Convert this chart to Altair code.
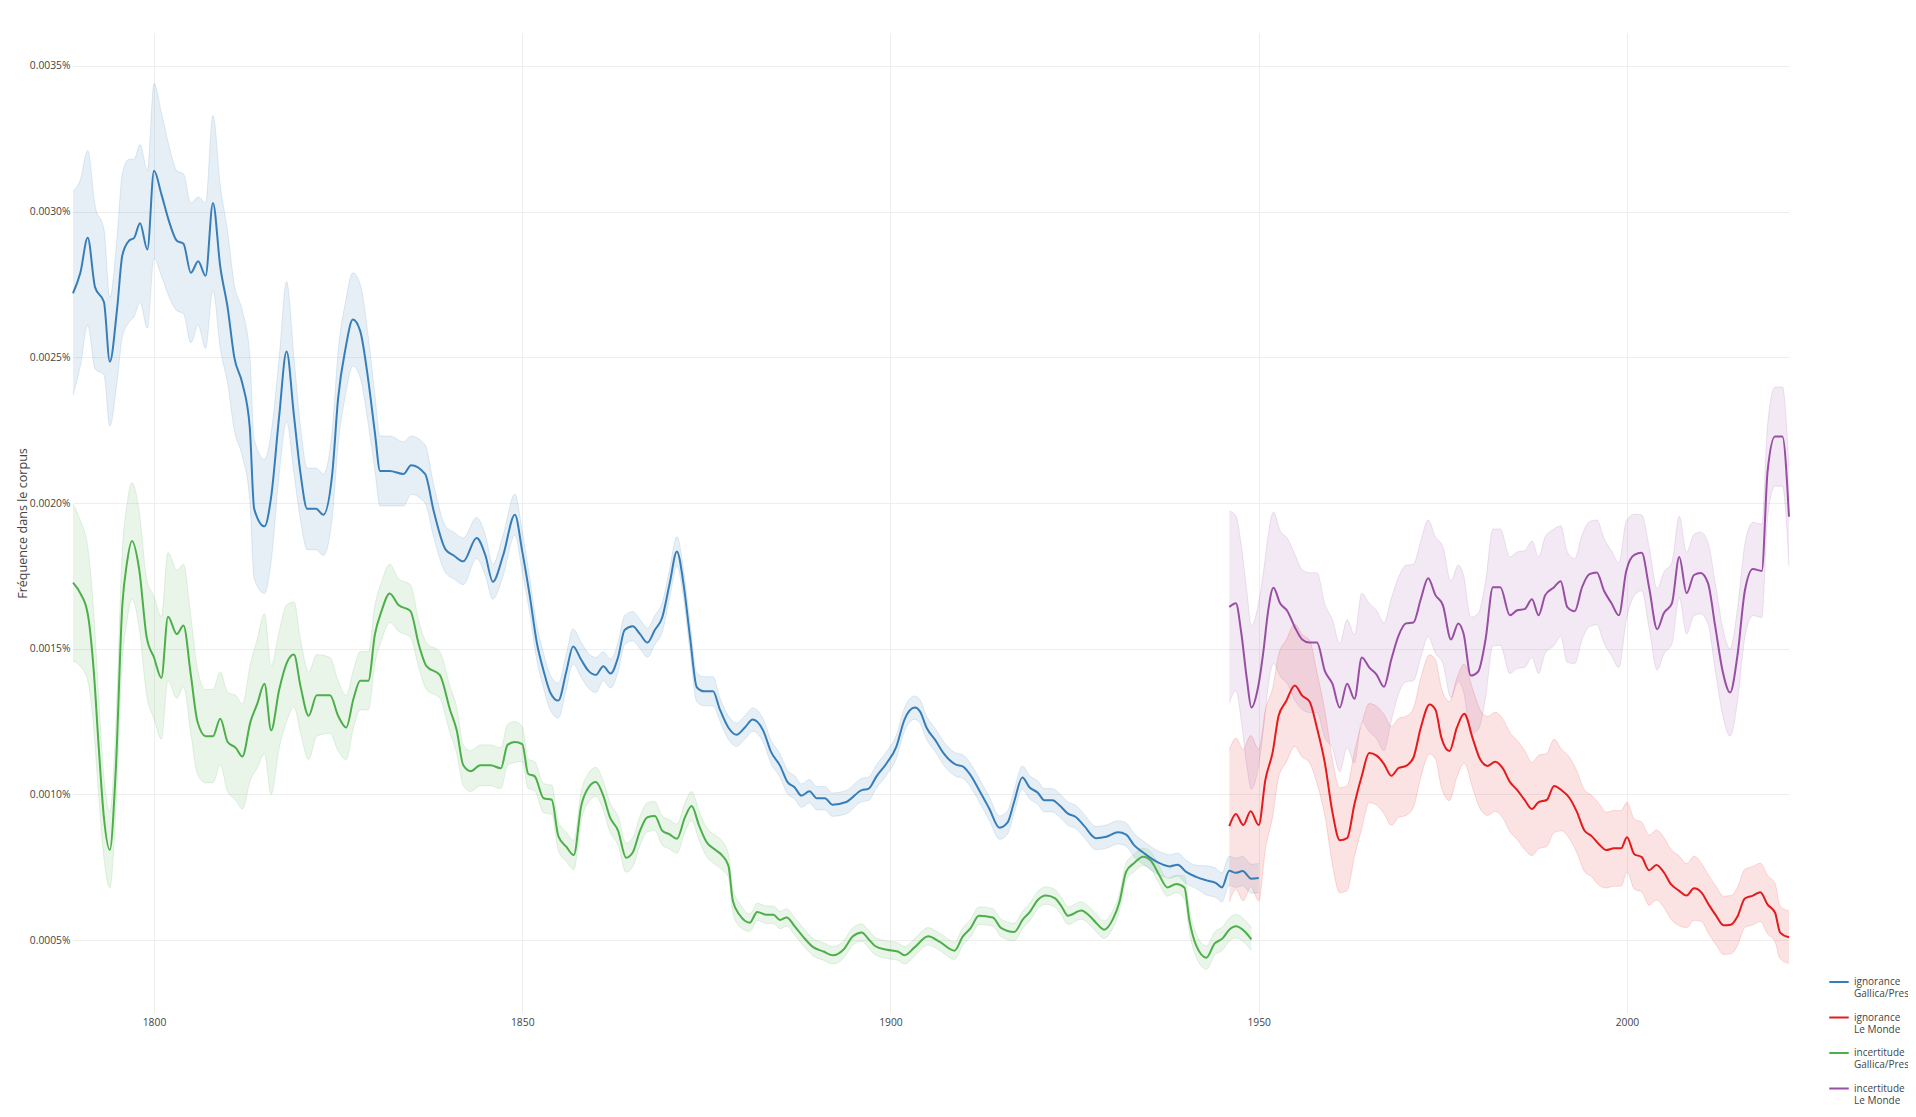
import altair as alt
import pandas as pd

# ---------------- data (values are in %) ----------------
series_names = ["ignorance Gallica/Presse", "ignorance Le Monde",
                "incertitude Gallica/Presse", "incertitude Le Monde"]
series_colors = ["#377eb8", "#e41a1c", "#4daf4a", "#984ea3"]

# ignorance – Gallica/Presse (blue)
years_ign_g = [1789, 1790, 1791, 1792, 1793.2, 1794, 1795, 1795.7, 1796.6, 1797.3, 1798.1, 1799.1,
               1800, 1801, 1802, 1803.1, 1804, 1805, 1806, 1807, 1808, 1809, 1810, 1810.9, 1812,
               1813, 1813.6, 1815, 1815.9, 1817, 1818, 1819, 1819.9, 1820.8, 1822, 1823, 1824.2,
               1825, 1826, 1827, 1828, 1829.1, 1830, 1830.7, 1832, 1833.9, 1834.9, 1836.8, 1838,
               1839.6, 1840.7, 1842, 1843.8, 1845, 1846, 1847.4, 1849, 1850, 1851, 1852, 1852.9,
               1853.8, 1854.9, 1856, 1856.9, 1858, 1859, 1860, 1861, 1862, 1863, 1863.9, 1865,
               1866, 1867, 1868, 1869, 1870, 1871, 1871.9, 1872.8, 1873.7, 1874.7, 1875.9, 1876.8,
               1878, 1879.1, 1880.2, 1881.3, 1882.7, 1883.8, 1885, 1886, 1887, 1887.9, 1889, 1890,
               1891.1, 1892.1, 1894, 1896.1, 1897, 1898.1, 1899.5, 1900.8, 1901.9, 1903.3, 1904,
               1904.9, 1906.2, 1907.1, 1908.9, 1909.8, 1910.7, 1912.1, 1913.4, 1914.8, 1915.9,
               1916.8, 1917.9, 1918.9, 1920, 1920.9, 1922, 1922.9, 1924.1, 1925.2, 1926.3, 1927.9,
               1929.3, 1930.9, 1932, 1933.1, 1934.3, 1935.6, 1937, 1937.9, 1939, 1940.1, 1941.5,
               1942.9, 1944.2, 1945, 1946, 1946.9, 1947.8, 1949, 1950]
vals_ign_g = [0.00272, 0.00279, 0.00291, 0.00274, 0.00269, 0.002485, 0.00267, 0.00285, 0.0029,
              0.00291, 0.00296, 0.00287, 0.00314, 0.00306, 0.00297, 0.0029, 0.00289, 0.00279,
              0.00283, 0.00278, 0.00303, 0.00281, 0.00267, 0.0025, 0.00241, 0.00226, 0.00198,
              0.00192, 0.00202, 0.0023, 0.00252, 0.0023, 0.0021, 0.00198, 0.00198, 0.00196,
              0.0021, 0.00236, 0.00253, 0.00263, 0.00259, 0.00242, 0.00224, 0.00211, 0.00211,
              0.0021, 0.00213, 0.0021, 0.00197, 0.00184, 0.00182, 0.0018, 0.00188, 0.00182,
              0.00173, 0.00182, 0.00196, 0.001834, 0.001685, 0.001518, 0.001424, 0.00135,
              0.001322, 0.001424, 0.001508, 0.001462, 0.001424, 0.00141, 0.00144, 0.001415,
              0.00147, 0.001564, 0.001577, 0.00155, 0.001521, 0.001564, 0.001607, 0.001722,
              0.001834, 0.001722, 0.001536, 0.001368, 0.001354, 0.001354, 0.001294, 0.001229,
              0.001205, 0.001229, 0.001257, 0.00122, 0.001145, 0.001099, 0.001043, 0.001024,
              0.000996, 0.001011, 0.000987, 0.000987, 0.000965, 0.000974, 0.001015, 0.001019,
              0.001062, 0.001108, 0.001164, 0.001257, 0.001298, 0.001285, 0.001229, 0.001182,
              0.001145, 0.001102, 0.001096, 0.001072, 0.001012, 0.000952, 0.000886, 0.000904,
              0.000976, 0.001058, 0.001024, 0.001006, 0.00098, 0.00098, 0.000964, 0.000934,
              0.000922, 0.000892, 0.00085, 0.000855, 0.00087, 0.000862, 0.000825, 0.000801,
              0.000777, 0.000759, 0.000753, 0.000759, 0.000735, 0.000717, 0.000705, 0.000696,
              0.000681, 0.000738, 0.000731, 0.000737, 0.000711, 0.000713]
band_ign_g = [0.00035, 0.00032, 0.0003, 0.00028, 0.00025, 0.00022, 0.00025, 0.00028, 0.00028,
              0.00027, 0.00027, 0.00027, 0.0003, 0.00028, 0.00026, 0.00024, 0.00024, 0.00024,
              0.00022, 0.00025, 0.0003, 0.00028, 0.00026, 0.00025, 0.00025, 0.00025, 0.00024,
              0.00023, 0.00022, 0.0002, 0.00024, 0.0002, 0.00016, 0.00014, 0.00014, 0.00014,
              0.00015, 0.00016, 0.00016, 0.00016, 0.00016, 0.00015, 0.00013, 0.00012, 0.00012,
              0.00011, 0.0001, 0.0001, 0.00009, 0.00008, 0.00008, 0.00008, 0.00007, 0.00007,
              0.00006, 0.00007, 0.00007, 0.00007, 0.00006, 0.00006, 0.00006, 0.00006, 0.00006,
              0.00006, 0.00006, 0.00006, 0.00006, 0.00006, 0.00005, 0.00005, 0.00005, 0.00005,
              0.00005, 0.00005, 0.00005, 0.00005, 0.00005, 0.00005, 0.00005, 0.00005, 0.00005,
              0.00005, 0.00005, 0.00005, 0.00004, 0.00004, 0.00004, 0.00004, 0.00004, 0.00004,
              0.00004, 0.00004, 0.00004, 0.00004, 0.00004, 0.00004, 0.00004, 0.00004, 0.00004,
              0.00004, 0.00004, 0.00004, 0.00004, 0.00004, 0.00004, 0.00004, 0.00004, 0.00004,
              0.00004, 0.00004, 0.00004, 0.00004, 0.00004, 0.00004, 0.00004, 0.00004, 0.00004,
              0.00004, 0.00004, 0.00004, 0.00004, 0.00004, 0.00004, 0.00004, 0.00004, 0.00004,
              0.00004, 0.00004, 0.00004, 0.00004, 0.00004, 0.00004, 0.00004, 0.00004, 0.00004,
              0.00004, 0.00004, 0.00004, 0.00004, 0.00004, 0.00005, 0.00005, 0.00005, 0.00005,
              0.00005, 0.00005, 0.00005, 0.00005, 0.00005, 0.00005]

# incertitude – Gallica/Presse (green)
years_inc_g = [1789, 1790, 1791, 1791.8, 1792.5, 1793.2, 1794, 1794.8, 1795.7, 1796.3, 1797, 1798,
               1799, 1800, 1801, 1801.9, 1803.1, 1804, 1805, 1805.9, 1807, 1808, 1809, 1810,
               1811.1, 1812, 1813.1, 1814, 1815, 1815.9, 1817, 1818, 1819, 1819.9, 1821, 1822.1,
               1823.9, 1825, 1826.1, 1827.1, 1828, 1829.1, 1830, 1830.9, 1832, 1833.2, 1834.8,
               1836, 1837, 1838.8, 1840.2, 1841.1, 1842, 1843, 1844.3, 1845.7, 1847.1, 1848, 1849,
               1850, 1850.8, 1851.7, 1852.9, 1854, 1854.9, 1856, 1857, 1858, 1859, 1860, 1861,
               1861.9, 1863, 1864.1, 1865, 1866, 1867, 1868, 1869, 1870, 1871, 1872.1, 1873, 1874,
               1875, 1876.2, 1877.1, 1878, 1878.6, 1879.5, 1880.9, 1881.9, 1883.2, 1884.1, 1885,
               1885.9, 1887, 1888.1, 1889.5, 1890.9, 1892.2, 1893.6, 1894.9, 1896.1, 1897, 1897.9,
               1899.5, 1901, 1901.9, 1903.3, 1905.1, 1906.7, 1908.7, 1909.8, 1910.9, 1912, 1913.9,
               1915, 1916.8, 1918, 1918.9, 1920, 1921.1, 1922.3, 1923.2, 1924.1, 1925.9, 1927,
               1927.9, 1929, 1930.2, 1931.1, 1932, 1933.1, 1934.3, 1935.4, 1936.5, 1937.6, 1938.8,
               1939.9, 1940.6, 1941.5, 1942.9, 1944, 1945.1, 1946, 1946.9, 1948.1, 1949, 1950]
vals_inc_g = [0.001727, 0.00169, 0.00162, 0.00143, 0.00116, 0.00092, 0.00081, 0.00108, 0.00165,
              0.00179, 0.00187, 0.00177, 0.00154, 0.00147, 0.0014, 0.00161, 0.00155, 0.00158,
              0.00141, 0.00125, 0.0012, 0.0012, 0.00126, 0.00118, 0.00116, 0.00113, 0.00125,
              0.00131, 0.00138, 0.00122, 0.00136, 0.00145, 0.00148, 0.00137, 0.00127, 0.00134,
              0.00134, 0.00127, 0.00123, 0.00133, 0.00139, 0.00139, 0.00155, 0.00163, 0.00169,
              0.00165, 0.00163, 0.00151, 0.00144, 0.00141, 0.00129, 0.00122, 0.0011, 0.00108,
              0.0011, 0.0011, 0.00109, 0.00117, 0.00118, 0.001173, 0.001071, 0.001062, 0.000987,
              0.000982, 0.000857, 0.00082, 0.000792, 0.00096, 0.001024, 0.001043, 0.000996,
              0.000922, 0.000876, 0.000783, 0.000801, 0.000876, 0.000922, 0.000926, 0.000876,
              0.000863, 0.000848, 0.000922, 0.00096, 0.000894, 0.000838, 0.00081, 0.000792,
              0.000755, 0.000634, 0.000587, 0.00056, 0.000597, 0.000587, 0.000587, 0.000569,
              0.000578, 0.000547, 0.000513, 0.000476, 0.000461, 0.000448, 0.000467, 0.000513,
              0.000526, 0.000504, 0.00048, 0.000467, 0.000461, 0.000448, 0.000476, 0.000513,
              0.000494, 0.000464, 0.000512, 0.000542, 0.000584, 0.000578, 0.000542, 0.000528,
              0.000572, 0.000596, 0.000638, 0.000653, 0.000644, 0.000617, 0.000584, 0.000602,
              0.000584, 0.00056, 0.000536, 0.000572, 0.000632, 0.000735, 0.000765, 0.000786,
              0.000771, 0.000723, 0.000681, 0.000693, 0.000681, 0.000566, 0.000482, 0.00044,
              0.000488, 0.000506, 0.000536, 0.000548, 0.00053, 0.000503, 0.000476]
band_inc_g = [0.00027, 0.00025, 0.00023, 0.0002, 0.00017, 0.00014, 0.00013, 0.00015, 0.00019,
              0.0002, 0.0002, 0.0002, 0.0002, 0.00021, 0.00021, 0.00022, 0.00022, 0.00021,
              0.0002, 0.00018, 0.00016, 0.00016, 0.00016, 0.00017, 0.00018, 0.00018, 0.0002,
              0.00022, 0.00024, 0.00022, 0.0002, 0.0002, 0.00018, 0.00016, 0.00015, 0.00014,
              0.00013, 0.00012, 0.00011, 0.0001, 0.0001, 0.0001, 0.0001, 0.0001, 0.0001,
              0.00009, 0.00009, 0.00008, 0.00008, 0.00008, 0.00008, 0.00008, 0.00007, 0.00007,
              0.00007, 0.00007, 0.00007, 0.00007, 0.00007, 0.00006, 0.00005, 0.00005, 0.00005,
              0.00005, 0.00005, 0.00005, 0.00005, 0.00005, 0.00005, 0.00005, 0.00005, 0.00005,
              0.00005, 0.00005, 0.00005, 0.00005, 0.00005, 0.00005, 0.00005, 0.00005, 0.00005,
              0.00005, 0.00005, 0.00005, 0.00005, 0.00005, 0.00005, 0.00004, 0.00004, 0.00004,
              0.00003, 0.00003, 0.00003, 0.00003, 0.00003, 0.00003, 0.00003, 0.00003, 0.00003,
              0.00003, 0.00003, 0.00003, 0.00003, 0.00003, 0.00003, 0.00003, 0.00003, 0.00003,
              0.00003, 0.00003, 0.00003, 0.00003, 0.00003, 0.00003, 0.00003, 0.00003, 0.00003,
              0.00003, 0.00003, 0.00003, 0.00003, 0.00003, 0.00003, 0.00003, 0.00003, 0.00003,
              0.00003, 0.00003, 0.00003, 0.00003, 0.00003, 0.00003, 0.00003, 0.00003, 0.00003,
              0.00003, 0.00003, 0.00003, 0.00003, 0.00004, 0.00004, 0.00004, 0.00004, 0.00004,
              0.00004, 0.00004, 0.00004, 0.00004, 0.00004]

# ignorance – Le Monde (red)
years_ign_m = [1946, 1946.9, 1947.9, 1948.9, 1950, 1950.9, 1951.9, 1952.7, 1953.7, 1954.9, 1955.9,
               1956.9, 1957.9, 1959, 1960, 1961, 1962, 1963, 1964, 1965, 1966, 1967, 1968, 1969,
               1970, 1971, 1972, 1973.2, 1974, 1974.8, 1975.9, 1976.9, 1977.9, 1979.1, 1980.1,
               1981.1, 1982.1, 1983.1, 1984.1, 1985.1, 1986.1, 1987.1, 1988, 1989.1, 1990.1,
               1991.1, 1992.2, 1993.2, 1994.2, 1995.2, 1996.2, 1997.2, 1998.2, 1999.2, 2000, 2001,
               2002, 2003, 2004, 2005, 2006, 2007, 2008.1, 2009.1, 2010.1, 2011.1, 2012.1, 2013.1,
               2014.1, 2015, 2016, 2017.1, 2018.1, 2019.1, 2020.1, 2020.8, 2022]
vals_ign_m = [0.000891, 0.000933, 0.000895, 0.000942, 0.000895, 0.00105, 0.001146, 0.00127,
              0.001319, 0.001374, 0.001339, 0.001319, 0.001229, 0.001105, 0.00094, 0.000843,
              0.00085, 0.000967, 0.001064, 0.001142, 0.001133, 0.001105, 0.001064, 0.001091,
              0.001098, 0.001126, 0.001229, 0.001309, 0.001291, 0.001195, 0.001149, 0.001229,
              0.001277, 0.001188, 0.001119, 0.001098, 0.001112, 0.001091, 0.001043, 0.001015,
              0.000981, 0.00095, 0.000974, 0.000981, 0.001029, 0.001015, 0.000988, 0.00094,
              0.000877, 0.000857, 0.000829, 0.000809, 0.000815, 0.000815, 0.000853, 0.000795,
              0.000785, 0.00074, 0.000758, 0.000733, 0.000691, 0.000671, 0.000653, 0.000678,
              0.000664, 0.000622, 0.000584, 0.000551, 0.000553, 0.000581, 0.000643, 0.000653,
              0.000664, 0.000622, 0.000595, 0.000526, 0.00051]
band_ign_m = [0.00026, 0.00026, 0.00026, 0.00026, 0.00026, 0.00024, 0.00022, 0.00021, 0.00021,
              0.00021, 0.00021, 0.00021, 0.00019, 0.00018, 0.00018, 0.00018, 0.00018, 0.00018,
              0.00018, 0.00017, 0.00017, 0.00017, 0.00017, 0.00017, 0.00017, 0.00017, 0.00017,
              0.00017, 0.00017, 0.00017, 0.00017, 0.00017, 0.00017, 0.00017, 0.00017, 0.00017,
              0.00017, 0.00017, 0.00017, 0.00017, 0.00017, 0.00016, 0.00016, 0.00016, 0.00016,
              0.00014, 0.00014, 0.00014, 0.00014, 0.00014, 0.00014, 0.00013, 0.00013, 0.00013,
              0.00012, 0.00012, 0.00012, 0.00012, 0.00012, 0.00012, 0.00012, 0.00012, 0.00011,
              0.00011, 0.0001, 0.0001, 0.0001, 0.0001, 0.0001, 0.0001, 0.0001, 0.0001, 0.0001,
              0.0001, 0.0001, 0.00009, 0.00009]

# incertitude – Le Monde (purple)
years_inc_m = [1946, 1946.9, 1947.6, 1948.4, 1949, 1949.9, 1950.7, 1951.2, 1952, 1952.9, 1953.9,
               1954.9, 1955.9, 1956.9, 1957.9, 1959, 1960, 1961, 1962, 1963, 1964, 1965, 1966,
               1967, 1968, 1969, 1970, 1971, 1972, 1973, 1974, 1975, 1976.1, 1977.1, 1977.8,
               1978.8, 1979.8, 1980.8, 1981.8, 1982.8, 1984.1, 1985.1, 1986.1, 1987.1, 1988,
               1988.9, 1990.1, 1991, 1991.9, 1992.9, 1993.9, 1994.9, 1995.9, 1996.9, 1997.9,
               1998.9, 1999.9, 2001, 2002, 2003, 2004.1, 2005, 2006.1, 2007.1, 2008.1, 2009.1,
               2010, 2011, 2012, 2013, 2014, 2015, 2016, 2017.1, 2018.3, 2019.1, 2020.1, 2021.1,
               2022]
vals_inc_m = [0.001643, 0.001656, 0.00156, 0.001394, 0.001298, 0.001367, 0.001505, 0.001615,
              0.001709, 0.001656, 0.001629, 0.001574, 0.001532, 0.001521, 0.001521, 0.001422,
              0.00138, 0.001298, 0.00138, 0.001328, 0.00147, 0.001436, 0.001411, 0.00137,
              0.001463, 0.001546, 0.001587, 0.00159, 0.00167, 0.001742, 0.001684, 0.00165,
              0.001532, 0.001587, 0.001553, 0.001408, 0.001422, 0.001532, 0.001711, 0.001711,
              0.001615, 0.001632, 0.001636, 0.00167, 0.001615, 0.001684, 0.001711, 0.001732,
              0.001643, 0.001629, 0.001711, 0.001756, 0.001762, 0.001698, 0.001656, 0.001615,
              0.001767, 0.001822, 0.001829, 0.001711, 0.001567, 0.001622, 0.001656, 0.001815,
              0.001691, 0.001753, 0.00176, 0.001725, 0.001574, 0.001422, 0.00135, 0.001477,
              0.001698, 0.001774, 0.001767, 0.002111, 0.002228, 0.002228, 0.001953]
band_inc_m = [0.00033, 0.0003, 0.0003, 0.0003, 0.00028, 0.00028, 0.00027, 0.00026, 0.00026,
              0.00025, 0.00025, 0.00025, 0.00024, 0.00024, 0.00024, 0.00023, 0.00022, 0.00022,
              0.00022, 0.00022, 0.00022, 0.00022, 0.00022, 0.00022, 0.00021, 0.0002, 0.0002,
              0.0002, 0.0002, 0.0002, 0.0002, 0.0002, 0.0002, 0.0002, 0.0002, 0.0002, 0.0002,
              0.0002, 0.0002, 0.0002, 0.0002, 0.0002, 0.0002, 0.0002, 0.0002, 0.0002, 0.0002,
              0.00019, 0.00019, 0.00018, 0.00018, 0.00018, 0.00018, 0.00018, 0.00018, 0.00018,
              0.00017, 0.00014, 0.00013, 0.00014, 0.00014, 0.00014, 0.00014, 0.00014, 0.00014,
              0.00014, 0.00014, 0.00014, 0.00015, 0.00015, 0.00015, 0.00016, 0.00016, 0.00016,
              0.00016, 0.00016, 0.00017, 0.00017, 0.00017]

y_ticks = [0.0005, 0.0010, 0.0015, 0.0020, 0.0025, 0.0030, 0.0035]
x_ticks = [1800, 1850, 1900, 1950, 2000]

# ---------------- table ----------------
rows = []
for name, ys, vs, bs in [
    (series_names[0], years_ign_g, vals_ign_g, band_ign_g),
    (series_names[1], years_ign_m, vals_ign_m, band_ign_m),
    (series_names[2], years_inc_g, vals_inc_g, band_inc_g),
    (series_names[3], years_inc_m, vals_inc_m, band_inc_m),
]:
    for yr, v, b in zip(ys, vs, bs):
        rows.append({"serie": name, "annee": yr, "valeur": v,
                     "bas": v - b, "haut": v + b})
df = pd.DataFrame(rows)

FONT = "Open Sans"
color_scale = alt.Scale(domain=series_names, range=series_colors)

x_enc = alt.X("annee:Q",
              scale=alt.Scale(domain=[1789, 2022], nice=False, zero=False),
              axis=alt.Axis(values=x_ticks, format="d", title=None, grid=True,
                            gridColor="#eeeeee", domain=False, ticks=False,
                            labelPadding=4, labelFontSize=10.3, labelColor="#444444",
                            labelFont=FONT))
y_scale = alt.Scale(domain=[0.00025, 0.003613], nice=False, zero=False)
y_axis = alt.Axis(values=y_ticks,
                  labelExpr="format(datum.value, '.4f') + '%'",
                  title="Fréquence dans le corpus", titleFont=FONT,
                  titleFontSize=12.6, titleFontWeight="normal",
                  titleColor="#444444", titlePadding=0,
                  grid=True, gridColor="#eeeeee", domain=False, ticks=False,
                  labelPadding=3, labelFontSize=10.3, labelColor="#444444",
                  labelFont=FONT)

base = alt.Chart(df)
no_legend_color = alt.Color("serie:N", scale=color_scale, legend=None)

bands = base.mark_area(interpolate="monotone", orient="vertical",
                       fillOpacity=0.12).encode(
    x=x_enc,
    y=alt.Y("bas:Q", scale=y_scale, axis=y_axis),
    y2="haut:Q",
    color=no_legend_color,
)
edge_lo = base.mark_line(interpolate="monotone", strokeWidth=1, opacity=0.15).encode(
    x="annee:Q", y=alt.Y("bas:Q", scale=y_scale), color=no_legend_color)
edge_hi = base.mark_line(interpolate="monotone", strokeWidth=1, opacity=0.15).encode(
    x="annee:Q", y=alt.Y("haut:Q", scale=y_scale), color=no_legend_color)

lines = base.mark_line(interpolate="monotone", strokeWidth=2).encode(
    x="annee:Q",
    y=alt.Y("valeur:Q", scale=y_scale),
    color=alt.Color("serie:N", scale=color_scale,
                    legend=alt.Legend(
                        title=None, orient="none", legendX=1755, legendY=938,
                        symbolType="stroke", symbolStrokeWidth=2, symbolSize=380,
                        labelFont=FONT, labelFontSize=10, labelColor="#444444",
                        labelOffset=4, rowPadding=7.5, labelLimit=200,
                        labelExpr="[substring(datum.label, 0, indexof(datum.label, ' ')), "
                                  "substring(datum.label, indexof(datum.label, ' ') + 1)]")),
)

chart = alt.layer(bands, edge_lo, edge_hi, lines).resolve_legend(
    color="independent"
).properties(
    width=1716, height=980,
    autosize=alt.AutoSizeParams(type="none"),
    padding={"left": 65, "top": 25, "right": 119, "bottom": 95},
    background="white",
).configure_view(stroke=None)

chart.save("out.html", embed_options={"renderer": "svg", "actions": False})
